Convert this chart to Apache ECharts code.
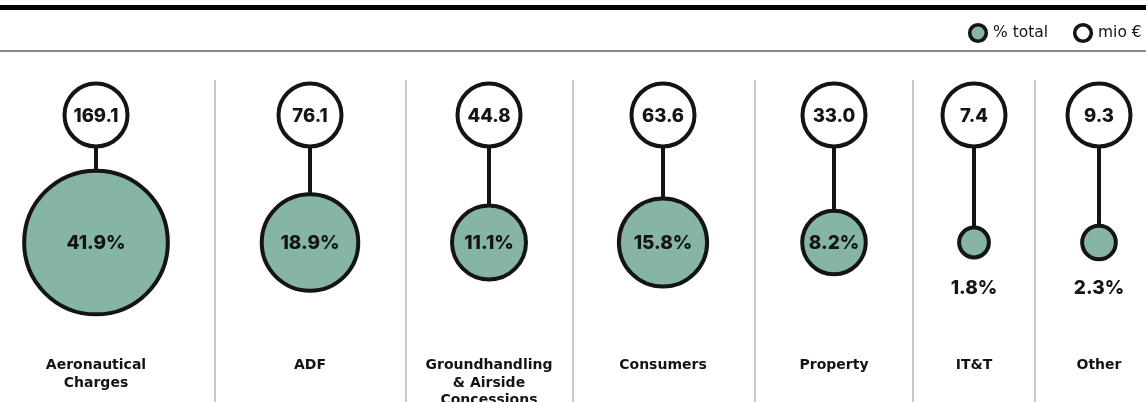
<!DOCTYPE html>
<html>
<head>
<meta charset="utf-8">
<script src="https://cdn.jsdelivr.net/npm/echarts@6/dist/echarts.min.js"></script>
<style>
  html, body { margin: 0; padding: 0; background: #fff; }
  #chart { width: 1146px; height: 402px; }
</style>
</head>
<body>
<div id="chart"></div>
<script>
// Revenue breakdown by business line
const categories = ['Aeronautical\nCharges', 'ADF', 'Groundhandling\n& Airside\nConcessions', 'Consumers', 'Property', 'IT&T', 'Other'];
const mioEuro = [169.1, 76.1, 44.8, 63.6, 33.0, 7.4, 9.3];
const pctTotal = [41.9, 18.9, 11.1, 15.8, 8.2, 1.8, 2.3];
const legendLabels = ['% total', 'mio €'];

// Layout (pixel units of the hidden grid)
const columnCenters = [96, 310, 489, 663, 834, 974, 1099];
const dividers = [215, 406, 573, 755, 913, 1035];
const ROW_VALUE = 115;     // centre of the "mio €" circles
const ROW_PCT = 242.5;     // centre of the "% total" circles
const ROW_LABEL = 357;     // top of category names
const VALUE_R = 31.5;      // radius of the "mio €" circles
const PCT_SCALE = 11.1;    // radius per sqrt(% point) — area-proportional
const STROKE = 4;

const GREEN = '#86b5a8';
const INK = '#141414';
const NUM_FONT = 'Inter';
const LABEL_FONT = '"DejaVu Sans"';

const chart = echarts.init(document.getElementById('chart'), null, { renderer: 'canvas' });

const data = categories.map((c, i) => [columnCenters[i], mioEuro[i], pctTotal[i], i > 0 ? dividers[i - 1] : -1]);

function renderItem(params, api) {
  const i = params.dataIndex;
  const cx = api.value(0);
  const mio = api.value(1);
  const pct = api.value(2);
  const divX = api.value(3);

  const top = api.coord([cx, ROW_VALUE]);
  const bot = api.coord([cx, ROW_PCT]);
  const rTop = api.size([0, VALUE_R])[1];
  const rPct = api.size([0, PCT_SCALE * Math.sqrt(pct)])[1];
  const small = rPct < 25;

  const children = [];

  if (divX >= 0) {
    const a = api.coord([divX, 80]);
    const b = api.coord([divX, 402]);
    children.push({
      type: 'line',
      shape: { x1: a[0], y1: a[1], x2: b[0], y2: b[1] },
      style: { stroke: '#b9b9b9', lineWidth: 1.5 }
    });
  }

  children.push({
    type: 'line',
    shape: { x1: top[0], y1: top[1] + rTop, x2: bot[0], y2: bot[1] - rPct },
    style: { stroke: INK, lineWidth: STROKE }
  });

  children.push({
    type: 'circle',
    shape: { cx: top[0], cy: top[1], r: rTop },
    style: { fill: '#fff', stroke: INK, lineWidth: STROKE }
  });
  children.push({
    type: 'text',
    x: top[0], y: top[1] + 1,
    style: {
      text: mio.toFixed(1), fill: INK, align: 'center', verticalAlign: 'middle',
      font: `800 18.5px ${NUM_FONT}`
    }
  });

  children.push({
    type: 'circle',
    shape: { cx: bot[0], cy: bot[1], r: rPct },
    style: { fill: GREEN, stroke: INK, lineWidth: STROKE }
  });
  children.push({
    type: 'text',
    x: bot[0], y: small ? bot[1] + 46 : bot[1] + 1,
    style: {
      text: pct.toFixed(1) + '%', fill: INK, align: 'center', verticalAlign: 'middle',
      font: `800 19px ${NUM_FONT}`
    }
  });

  const lab = api.coord([cx, ROW_LABEL]);
  children.push({
    type: 'text',
    x: lab[0], y: lab[1],
    style: {
      text: categories[i], fill: INK, align: 'center', verticalAlign: 'top',
      font: `700 14px ${LABEL_FONT}`, lineHeight: 17.5
    }
  });

  return { type: 'group', children };
}

// Key in the top-right corner
function legendItem(x, fill, label) {
  return [
    { type: 'circle', shape: { cx: x, cy: 33, r: 8.3 }, style: { fill, stroke: INK, lineWidth: 3.6 } },
    {
      type: 'text', x: x + 15, y: 33,
      style: { text: label, fill: INK, verticalAlign: 'middle', font: '400 15.5px "DejaVu Sans"' }
    }
  ];
}

const option = {
  backgroundColor: '#fff',
  animation: false,
  grid: { left: 0, right: 0, top: 0, bottom: 0 },
  xAxis: { type: 'value', min: 0, max: 1146, show: false },
  yAxis: { type: 'value', min: 0, max: 402, inverse: true, show: false },
  graphic: [
    { type: 'rect', shape: { x: 0, y: 5, width: 1146, height: 5 }, style: { fill: '#000' } },
    { type: 'rect', shape: { x: 0, y: 50, width: 1146, height: 2 }, style: { fill: '#8a8a8a' } },
    ...legendItem(978, GREEN, legendLabels[0]),
    ...legendItem(1083, '#fff', legendLabels[1])
  ],
  series: [
    {
      type: 'custom', name: 'breakdown', renderItem, data,
      clip: false, silent: true
    }
  ]
};

chart.setOption(option);
</script>
</body>
</html>
